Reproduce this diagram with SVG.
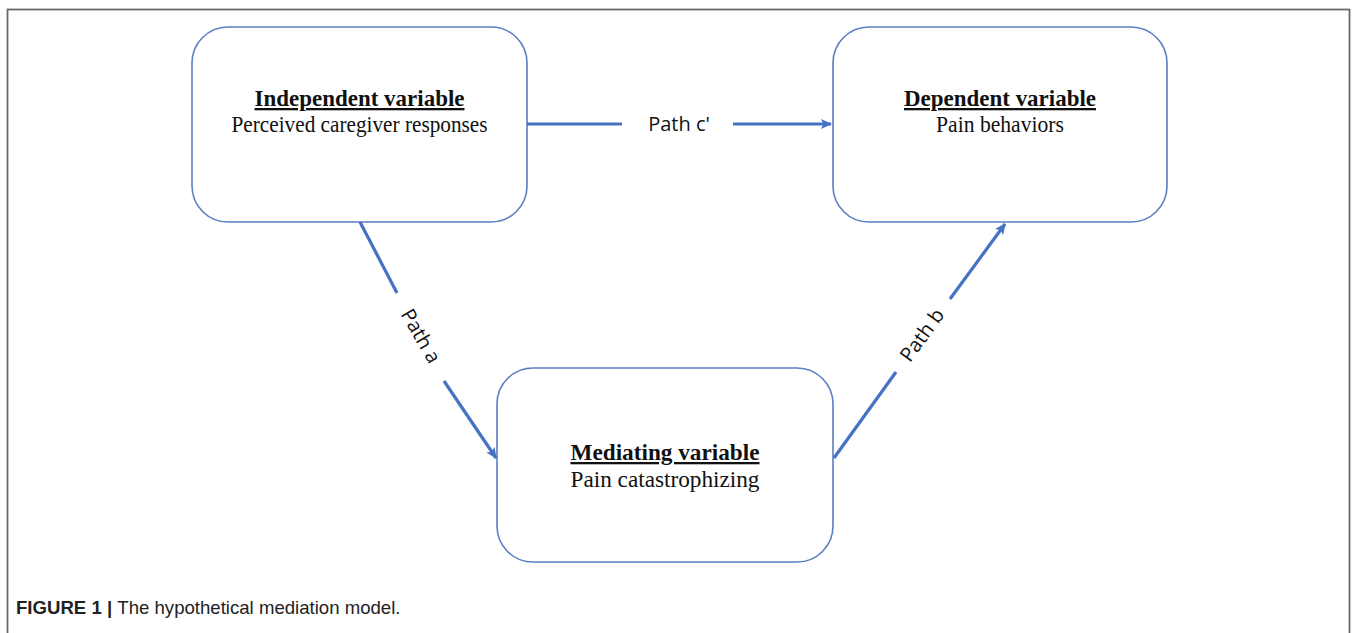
<svg xmlns="http://www.w3.org/2000/svg" width="1357" height="633" viewBox="0 0 1357 633">
<style>
.box{fill:#fff;stroke:#5a7fc2;stroke-width:1.6}
.t{font-family:"Liberation Serif",serif;font-size:23px;fill:#111;text-anchor:middle}
.h{font-weight:bold;text-decoration:underline}
.c{stroke:#4472c4;stroke-width:3.2;fill:none}
.lbl{font-family:"Open Sans","Liberation Sans",sans-serif;font-size:20px;fill:#111;text-anchor:middle}
.cap{font-family:"Liberation Sans",Arial,sans-serif;font-size:18.6px;fill:#222}
</style>
<defs>
<marker id="ah" markerWidth="12" markerHeight="12" refX="10" refY="6" orient="auto" markerUnits="userSpaceOnUse">
<path d="M0,1 L11,6 L0,11 L2.5,6 Z" fill="#4472c4"/>
</marker>
</defs>
<rect x="0" y="0" width="1357" height="633" fill="#fff"/>
<rect x="7.5" y="9.5" width="1342" height="640" fill="none" stroke="#6a6a6a" stroke-width="1.8"/>
<g id="independent">
<rect class="box" x="192" y="27" width="335" height="195" rx="36"/>
<text class="t h" x="359.5" y="106" textLength="210" lengthAdjust="spacingAndGlyphs">Independent variable</text>
<text class="t" x="359.5" y="132" textLength="256" lengthAdjust="spacingAndGlyphs">Perceived caregiver responses</text>
</g>
<g id="dependent">
<rect class="box" x="833" y="27" width="334" height="195" rx="36"/>
<text class="t h" x="1000" y="106" textLength="192" lengthAdjust="spacingAndGlyphs">Dependent variable</text>
<text class="t" x="1000" y="132" textLength="128" lengthAdjust="spacingAndGlyphs">Pain behaviors</text>
</g>
<g id="mediating">
<rect class="box" x="497" y="368" width="336" height="194" rx="36"/>
<text class="t h" x="665" y="460" textLength="189" lengthAdjust="spacingAndGlyphs">Mediating variable</text>
<text class="t" x="665" y="487" textLength="189" lengthAdjust="spacingAndGlyphs">Pain catastrophizing</text>
</g>
<g id="connectors">
<line class="c" x1="527" y1="124" x2="622" y2="124"/>
<line class="c" x1="733" y1="124" x2="831" y2="124" marker-end="url(#ah)"/>
<text class="lbl" x="679" y="131">Path c'</text>
<line class="c" x1="360" y1="222" x2="397" y2="293"/>
<line class="c" x1="444" y1="381" x2="496" y2="458" marker-end="url(#ah)"/>
<text class="lbl" transform="translate(421,336) rotate(60)" x="0" y="7">Path a</text>
<line class="c" x1="834" y1="458" x2="896" y2="372"/>
<line class="c" x1="950" y1="299" x2="1005" y2="224" marker-end="url(#ah)"/>
<text class="lbl" transform="translate(922,335) rotate(-54)" x="0" y="7">Path b</text>
</g>
<text class="cap" x="16" y="614"><tspan font-weight="bold">FIGURE 1 | </tspan>The hypothetical mediation model.</text>
</svg>
